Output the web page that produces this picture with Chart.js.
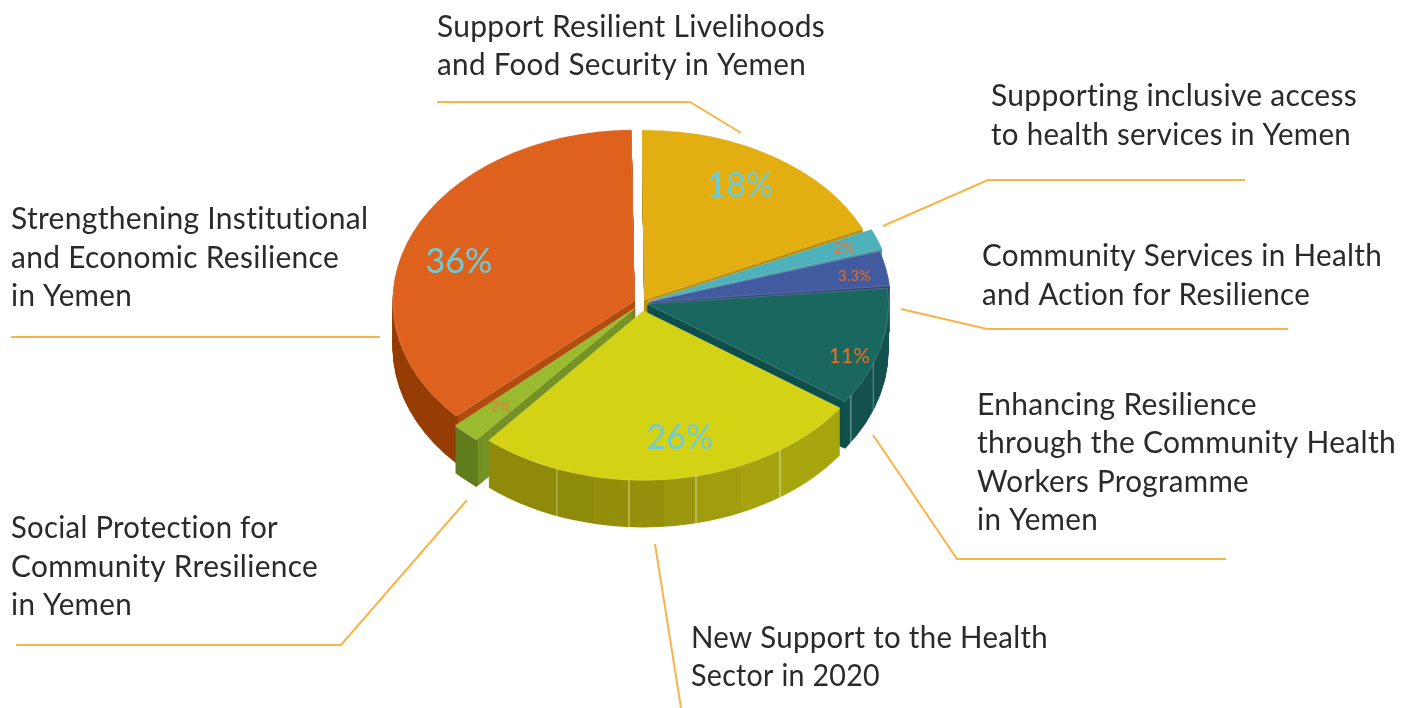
<!DOCTYPE html>
<html><head><meta charset="utf-8">
<style>html,body{margin:0;padding:0;background:#fff}canvas{display:block}</style>
<script src="https://cdn.jsdelivr.net/npm/chart.js@4"></script>
</head><body>
<canvas id="c" width="1415" height="708"></canvas>
<script>
const categories = [
  "Strengthening Institutional and Economic Resilience in Yemen",
  "Support Resilient Livelihoods and Food Security in Yemen",
  "Supporting inclusive access to health services in Yemen",
  "Community Services in Health and Action for Resilience",
  "Enhancing Resilience through the Community Health Workers Programme in Yemen",
  "New Support to the Health Sector in 2020",
  "Social Protection for Community Rresilience in Yemen"
];
const values = [36, 18, 2, 3.3, 11, 26, 2];
const valueLabels = ["36%", "18%", "2%", "3.3%", "11%", "26%", "2%"];

// styles
const topColors  = ["#de621e", "#e3ae12", "#4fb1bb", "#425ba0", "#1a675f", "#d3d215", "#9aba2f"];
const wallColors = ["#b85213", "#b98f0a", "#3f9499", "#2f4279", "#0f4f4b", "#a09d0e", "#7d9a27"];
const rimColors  = ["#963d05", "#b98f0a", "#3f9499", "#2f4279", "#13514f", "#9a960d", "#617c1e"];
const offsets    = [8, 5, 6.5, 5, 5, 11, 8];
const depths     = [47, 36, 40, 47, 47, 47, 47];
const paintOrder = [1, 2, 3, 0, 4, 6, 5];
const flatten = 0.707;
const startDeg = 227.5;
const labelPlace = [[.455,.8,34,"#6fcbd8"],[.475,.8,34,"#6fcbd8"],[.5,.9,15,"#e07b39"],[.6,.9,15,"#e0702a"],[.63,.92,21,"#e8702a"],[.46,.81,34,"#6fcbd8"],[.5,.85,15,"#e07b39"]];
// faceted rim shading: [angle from top in degrees, colour]
const facets = {
  5: [[125,"#a8a60f"],[145,"#a8a60f"],[145,"#c4c35a"],[145.5,"#c4c35a"],[145.5,"#a5a30f"],[156,"#a5a30f"],[156,"#a09d0e"],[167,"#a09d0e"],[167,"#bcba50"],[167.5,"#bcba50"],[167.5,"#9a960d"],[175,"#9a960d"],[175,"#94900b"],[183.3,"#94900b"],[183.3,"#b5b24a"],[183.8,"#b5b24a"],[183.8,"#938f0b"],[192,"#938f0b"],[192,"#8e8a0a"],[201,"#8e8a0a"],[201,"#aeac45"],[201.5,"#aeac45"],[201.5,"#8f8a09"],[222,"#8f8a09"]],
  4: [[84,"#13514f"],[110,"#13514f"],[110,"#5b8a87"],[110.5,"#5b8a87"],[110.5,"#13514f"],[122,"#13514f"],[122,"#5b8a87"],[122.5,"#5b8a87"],[122.5,"#12504d"],[130,"#12504d"]]
};

const textLines = [
  ["Support Resilient Livelihoods",437,37,388],["and Food Security in Yemen",437,75,369],
  ["Supporting inclusive access",991,106,366],["to health services in Yemen",991,145,360],
  ["Community Services in Health",982,266,400],["and Action for Resilience",982,305,328],
  ["Enhancing Resilience",977,415,280],["through the Community Health",977,453,419],["Workers Programme",977,492,272],["in Yemen",977,530,121],
  ["New Support to the Health",691,648,357],["Sector in 2020",691,686,189],
  ["Social Protection for",11,538,267],["Community Rresilience",11,577,307],["in Yemen",11,615,121],
  ["Strengthening Institutional",11,229,360],["and Economic Resilience",11,268,328],["in Yemen",11,306,121]
];
const leaders = [
  [[437,102],[690,102],[741,133]],
  [[883,226],[988,180],[1245,180]],
  [[901,309],[987,329],[1288,329]],
  [[873,435],[957,559],[1226,559]],
  [[655,544],[681,708]],
  [[467,500],[341,645],[16,645]],
  [[380,337],[11,337]]
];

function flat(ctx, cy, dy){
  ctx.translate(0, cy + dy);
  ctx.scale(1, flatten);
  ctx.translate(0, -cy);
}
function ghost(arc, color, radiusCut){
  const g = Object.create(arc);
  g.options = {backgroundColor:color, borderColor:'transparent', borderWidth:0, offset:arc.options.offset,
    spacing:0, circular:true, borderAlign:'center', borderRadius:0, borderJoinStyle:'round'};
  g.outerRadius = arc.outerRadius - radiusCut;
  return g;
}
function rimFill(ctx, i, arc){
  if(!facets[i]) return rimColors[i];
  const g = ctx.createConicGradient(-Math.PI/2, arc.x, arc.y);
  facets[i].forEach(s => g.addColorStop(s[0]/360, s[1]));
  return g;
}
const pie3d = {
  id:'pie3d',
  beforeDatasetsDraw(chart){
    const ctx = chart.ctx, arcs = chart.getDatasetMeta(0).data, cy = arcs[0].y;
    paintOrder.forEach(i => {
      const arc = arcs[i];
      const rim = rimFill(ctx, i, arc);
      for(let d = depths[i]; d >= 1; d--){
        ctx.save();
        flat(ctx, cy, d);
        ghost(arc, rim, 0).draw(ctx);
        ghost(arc, wallColors[i], 3).draw(ctx);
        ctx.restore();
      }
    });
    ctx.save();
    flat(ctx, cy, 0);
  },
  afterDatasetsDraw(chart){
    const ctx = chart.ctx, arcs = chart.getDatasetMeta(0).data;
    ctx.restore();
    ctx.save();
    ctx.letterSpacing = '0.01px';
    // value labels placed from each slice's own geometry
    ctx.textAlign = 'center'; ctx.textBaseline = 'middle';
    arcs.forEach((arc,i) => {
      const p = labelPlace[i];
      const a = arc.startAngle + (arc.endAngle-arc.startAngle)*p[0];
      const r = arc.outerRadius*p[1];
      ctx.font = p[2]+'px Lato';
      ctx.fillStyle = p[3];
      ctx.fillText(valueLabels[i], arc.x + Math.cos(a)*r, arc.y + Math.sin(a)*r*flatten);
    });
    // leader lines
    ctx.strokeStyle = '#f9b347'; ctx.lineWidth = 2; ctx.lineJoin='miter';
    leaders.forEach(l => {
      ctx.beginPath();
      l.forEach((p,j) => j ? ctx.lineTo(p[0],p[1]) : ctx.moveTo(p[0],p[1]));
      ctx.stroke();
    });
    // category text
    ctx.textAlign = 'left'; ctx.textBaseline = 'alphabetic';
    ctx.fillStyle = '#2a2a2c'; ctx.font = '30px Lato';
    ctx.letterSpacing = '0.3px';
    textLines.forEach(t => ctx.fillText(t[0], t[1], t[2], t[3]));
    ctx.restore();
  }
};
new Chart(document.getElementById('c'), {
  type:'pie',
  data:{labels:categories, datasets:[{
    data:values, backgroundColor:topColors, borderColor:'rgba(255,255,255,0.3)', borderWidth:0.7,
    offset:offsets.map(o=>o*4)
  }]},
  options:{
    responsive:false, animation:false, radius:240, rotation:startDeg,
    layout:{padding:{right:131,bottom:102}},
    plugins:{legend:{display:false},tooltip:{enabled:false}}
  },
  plugins:[pie3d]
});
</script>
</body></html>
